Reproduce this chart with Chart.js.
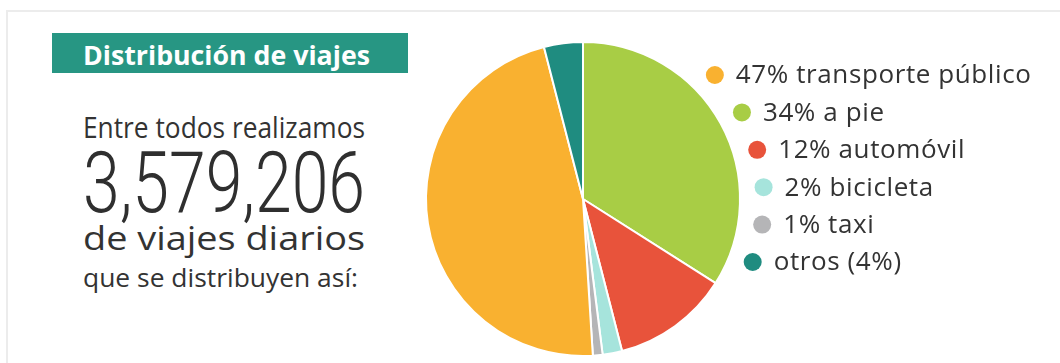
<!DOCTYPE html>
<html lang="es">
<head>
<meta charset="utf-8">
<title>Distribución de viajes</title>
<script src="https://cdn.jsdelivr.net/npm/chart.js@4.4.1/dist/chart.umd.min.js"></script>
<style>
  html, body { margin: 0; padding: 0; background: #fff; }
  body { width: 1060px; height: 363px; position: relative; overflow: hidden; font-family: "Open Sans", sans-serif; color: #333; }
  .marco { position: absolute; left: 6px; top: 10px; right: -10px; bottom: -10px; border-top: 2px solid #ececec; border-left: 2px solid #ececec; }
  .titulo { position: absolute; left: 52px; top: 33px; width: 356px; height: 40px; background: #279683; }
  .txt { position: absolute; white-space: nowrap; line-height: 1; transform-origin: 0 0; }
  #t0 { left: 83px; top: 41px; font-size: 27px; font-weight: 700; color: #fff; }
  #t1 { left: 83px; top: 112px; font-size: 29px; }
  #t2 { left: 83px; top: 140px; font-size: 86px; font-family: Roboto, sans-serif; font-weight: 300; color: #2f2f2f; }
  #t3 { left: 83px; top: 221px; font-size: 33px; }
  #t4 { left: 83px; top: 264px; font-size: 26px; }
  #caja { position: absolute; left: 0; top: 0; width: 1060px; height: 363px; }
</style>
</head>
<body>
<div class="marco"></div>
<div class="titulo"></div>
<div class="txt" id="t0" data-w="287">Distribución de viajes</div>
<div class="txt" id="t1" data-w="282">Entre todos realizamos</div>
<div class="txt" id="t2" data-w="282">3,579,206</div>
<div class="txt" id="t3" data-w="282">de viajes diarios</div>
<div class="txt" id="t4" data-w="275">que se distribuyen así:</div>
<div id="caja"><canvas id="graficoViajes"></canvas></div>
<script>
// datos en el orden del pastel (sentido horario desde arriba)
const categorias = ['a pie', 'automóvil', 'bicicleta', 'taxi', 'transporte público', 'otros'];
const porcentajes = [34, 12, 2, 1, 47, 4];
const etiquetas = ['34% a pie', '12% automóvil', '2% bicicleta', '1% taxi', '47% transporte público', 'otros (4%)'];
const colores = ['#a8cd45', '#e8533b', '#a6e4dc', '#b5b5b7', '#f9b130', '#1f8c80'];
// orden de la leyenda
const ordenLeyenda = [4, 0, 1, 2, 3, 5];

// ajusta el ancho de los textos de la izquierda
function ajustarTextos() {
    document.querySelectorAll('.txt').forEach(el => {
        const w = el.getBoundingClientRect().width;
        const escala = Number(el.dataset.w) / w;
        el.style.transform = `scaleX(${escala})`;
    });
}

// leyenda que sigue la curva del pastel
const leyendaCurva = {
    id: 'leyendaCurva',
    afterDraw(chart) {
        const arco = chart.getDatasetMeta(0).data[0];
        const cx = arco.x, cy = arco.y;
        const r = arco.outerRadius + 24;
        const ctx = chart.ctx;
        ctx.save();
        ctx.font = '26px "Open Sans", sans-serif';
        ctx.letterSpacing = '0.6px';
        ctx.textBaseline = 'middle';
        ordenLeyenda.forEach((idx, i) => {
            const y = cy - 124 + i * 37.4;
            const dy = y - cy;
            const x = cx + Math.sqrt(r * r - dy * dy);
            ctx.beginPath();
            ctx.arc(x, y, 9, 0, Math.PI * 2);
            ctx.fillStyle = colores[idx];
            ctx.fill();
            ctx.fillStyle = '#333';
            ctx.fillText(etiquetas[idx], x + 21, y + 1);
        });
        ctx.restore();
    }
};

let grafico = null;

document.fonts.ready.then(() => {
    ajustarTextos();
    const ctx = document.getElementById('graficoViajes');
    grafico = new Chart(ctx, {
        type: 'pie',
        data: {
            labels: categorias,
            datasets: [{
                data: porcentajes,
                backgroundColor: colores,
                borderColor: '#ffffff',
                borderWidth: 2
            }]
        },
        options: {
            responsive: true,
            maintainAspectRatio: false,
            animation: false,
            layout: { padding: { left: 425, top: 41, right: 319, bottom: 6 } },
            plugins: {
                legend: { display: false },
                tooltip: { enabled: false }
            }
        },
        plugins: [leyendaCurva]
    });
});
</script>
</body>
</html>
